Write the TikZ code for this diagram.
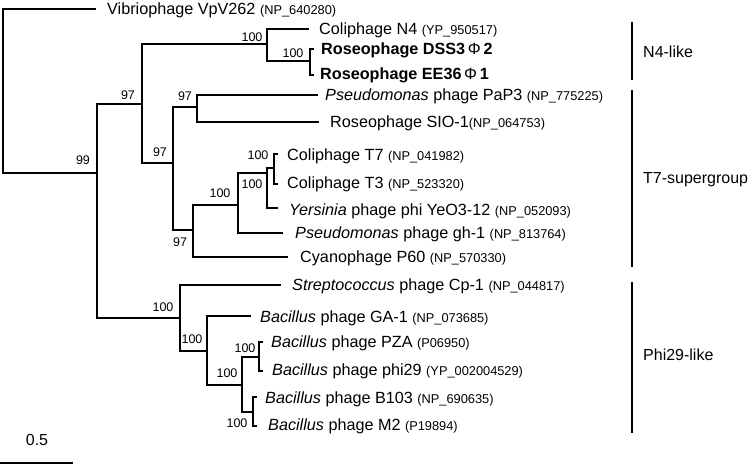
\documentclass[tikz,border=0pt]{standalone}
\usepackage{fontspec}
\setmainfont{Liberation Sans}
\newcommand\acc[1]{{\fontsize{12.8}{12.8}\selectfont #1}}
\newcommand\phisym{{\fontseries{m}\selectfont\,Φ\,}}
\begin{document}
\begin{tikzpicture}[x=1pt,y=-1pt,
  br/.style={line width=1.8pt,line cap=rect},
  leaf/.style={anchor=west,inner sep=0pt,text height=11.5pt,text depth=0pt,font=\fontsize{16.2}{16.2}\selectfont},
  boot/.style={inner sep=0pt,font=\fontsize{12.5}{12.5}\selectfont},
  grp/.style={anchor=west,inner sep=0pt,text height=11.5pt,text depth=0pt,font=\fontsize{16}{16}\selectfont},
  gbar/.style={line width=1.8pt}]
\useasboundingbox (0,0) rectangle (750,466);
% internal nodes
\coordinate (root) at (3,91);
\coordinate (A) at (97,173);
\coordinate (B) at (142,104);
\coordinate (C) at (267,44);
\coordinate (E) at (310,61);
\coordinate (D) at (173,163);
\coordinate (F) at (197,107);
\coordinate (G) at (193,230);
\coordinate (H) at (238,205);
\coordinate (I) at (267,173);
\coordinate (J) at (274,168);
\coordinate (P) at (180,318);
\coordinate (Q) at (207,351);
\coordinate (R) at (242,385);
\coordinate (S) at (259,357);
\coordinate (U) at (253,412);
% tips
\coordinate (tvib) at (95,9);
\coordinate (tn4) at (308,29);
\coordinate (tdss) at (313,49);
\coordinate (tee) at (313,75);
\coordinate (tpap) at (317,95);
\coordinate (tsio) at (318,122);
\coordinate (tt7) at (277,154);
\coordinate (tt3) at (277,184);
\coordinate (tyer) at (277,208);
\coordinate (tgh) at (282,233);
\coordinate (tcy) at (287,257);
\coordinate (tstr) at (280,285);
\coordinate (tga) at (250,316);
\coordinate (tpza) at (262,342);
\coordinate (tphi) at (262,371);
\coordinate (tb103) at (256,397);
\coordinate (tm2) at (256,426);
% branches
\draw[br] (root) |- (tvib);
\draw[br] (root) |- (A);
\draw[br] (A) |- (B);
\draw[br] (A) |- (P);
\draw[br] (B) |- (C);
\draw[br] (B) |- (D);
\draw[br] (C) |- (tn4);
\draw[br] (C) |- (E);
\draw[br] (E) |- (tdss);
\draw[br] (E) |- (tee);
\draw[br] (D) |- (F);
\draw[br] (D) |- (G);
\draw[br] (F) |- (tpap);
\draw[br] (F) |- (tsio);
\draw[br] (G) |- (H);
\draw[br] (G) |- (tcy);
\draw[br] (H) |- (I);
\draw[br] (H) |- (tgh);
\draw[br] (I) |- (J);
\draw[br] (I) |- (tyer);
\draw[br] (J) |- (tt7);
\draw[br] (J) |- (tt3);
\draw[br] (P) |- (tstr);
\draw[br] (P) |- (Q);
\draw[br] (Q) |- (tga);
\draw[br] (Q) |- (R);
\draw[br] (R) |- (S);
\draw[br] (R) |- (U);
\draw[br] (S) |- (tpza);
\draw[br] (S) |- (tphi);
\draw[br] (U) |- (tb103);
\draw[br] (U) |- (tm2);
% leaf labels
\node[leaf] (lvib) at (107,9) {Vibriophage VpV262 \acc{(NP\_640280)}};
\node[leaf] (ln4) at (319,29) {Coliphage N4 \acc{(YP\_950517)}};
\node[leaf] (ldss) at (321,49) {\bfseries Roseophage DSS3\phisym 2};
\node[leaf] (lee) at (320,74) {\bfseries Roseophage EE36\phisym 1};
\node[leaf] (lpap) at (325,95) {\itshape Pseudomonas\upshape{} phage PaP3 \acc{(NP\_775225)}};
\node[leaf] (lsio) at (330,122) {Roseophage SIO-1\acc{(NP\_064753)}};
\node[leaf] (lt7) at (287,155) {Coliphage T7 \acc{(NP\_041982)}};
\node[leaf] (lt3) at (287,183) {Coliphage T3 \acc{(NP\_523320)}};
\node[leaf] (lyer) at (289,210) {\itshape Yersinia\upshape{} phage phi YeO3-12 \acc{(NP\_052093)}};
\node[leaf] (lgh) at (295,233) {\itshape Pseudomonas\upshape{} phage gh-1 \acc{(NP\_813764)}};
\node[leaf] (lcy) at (300,257) {Cyanophage P60 \acc{(NP\_570330)}};
\node[leaf] (lstr) at (292,285) {\itshape Streptococcus\upshape{} phage Cp-1 \acc{(NP\_044817)}};
\node[leaf] (lga) at (260,317) {\itshape Bacillus\upshape{} phage GA-1 \acc{(NP\_073685)}};
\node[leaf] (lpza) at (271,342) {\itshape Bacillus\upshape{} phage PZA \acc{(P06950)}};
\node[leaf] (lphi) at (272,370) {\itshape Bacillus\upshape{} phage phi29 \acc{(YP\_002004529)}};
\node[leaf] (lb103) at (265,398) {\itshape Bacillus\upshape{} phage B103 \acc{(NP\_690635)}};
\node[leaf] (lm2) at (268,425) {\itshape Bacillus\upshape{} phage M2 \acc{(P19894)}};
% bootstrap values
\node[boot] (b99) at (83,160) {99};
\node[boot] (bB) at (128,95) {97};
\node[boot] (bC) at (252,37) {100};
\node[boot] (bE) at (293,53) {100};
\node[boot] (bF) at (185,96) {97};
\node[boot] (bD) at (160,152) {97};
\node[boot] (bG) at (180,242) {97};
\node[boot] (bH) at (220,193) {100};
\node[boot] (bI) at (252,184) {100};
\node[boot] (bJ) at (258,155) {100};
\node[boot] (bP) at (163,307) {100};
\node[boot] (bQ) at (192,339) {100};
\node[boot] (bS) at (245,348) {100};
\node[boot] (bR) at (227,373) {100};
\node[boot] (bU) at (237,423) {100};
% group bars
\coordinate (g1a) at (632,22); \coordinate (g1b) at (632,80);
\coordinate (g2a) at (632,90); \coordinate (g2b) at (632,267);
\coordinate (g3a) at (632,282); \coordinate (g3b) at (632,433);
\draw[gbar] (g1a) -- (g1b);
\draw[gbar] (g2a) -- (g2b);
\draw[gbar] (g3a) -- (g3b);
\node[grp] (gn4) at (643,52) {N4-like};
\node[grp] (gt7) at (643,178) {T7-supergroup};
\node[grp] (gphi) at (643,355) {Phi29-like};
% scale bar
\coordinate (sa) at (0,463); \coordinate (sb) at (73,463);
\draw[gbar] (sa) -- (sb);
\node[inner sep=0pt,font=\fontsize{16}{16}\selectfont] (sl) at (37,440) {0.5};
\end{tikzpicture}
\end{document}
